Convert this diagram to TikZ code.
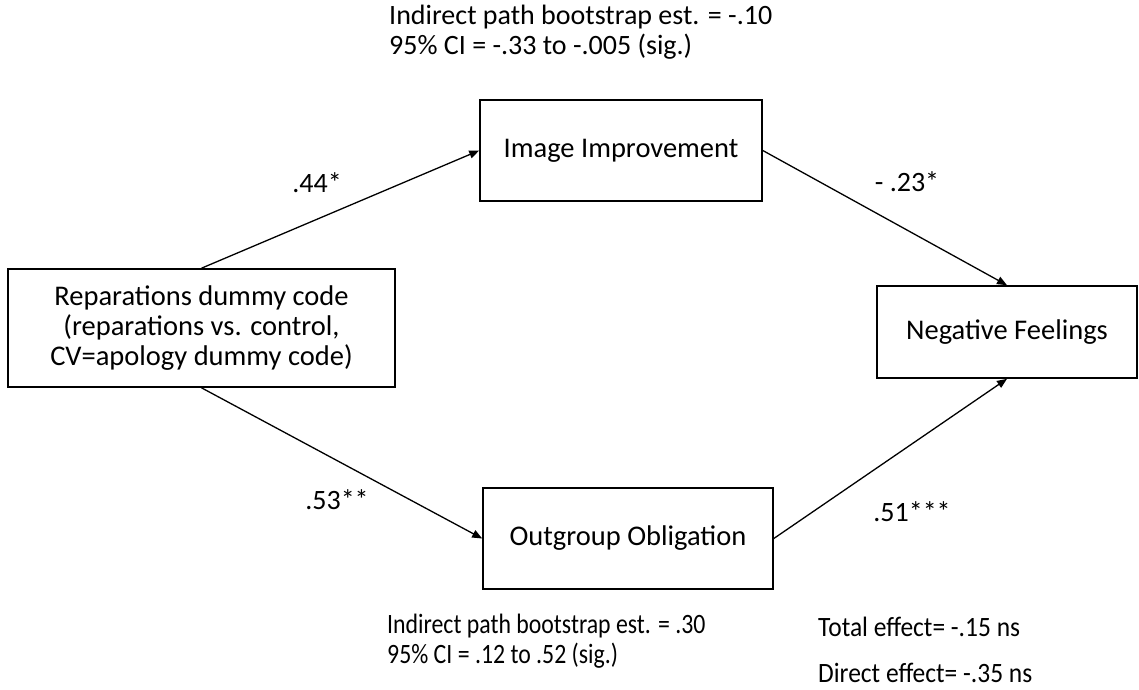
\documentclass[tikz,border=0pt]{standalone}
\usepackage{fontspec}
\setmainfont{Carlito}
\usetikzlibrary{arrows.meta}
\begin{document}
\begin{tikzpicture}[x=1pt,y=-1pt,
  box/.style={draw=black,line width=1.6pt,inner sep=0pt,font=\fontsize{28.5}{30}\selectfont,align=center},
  lbl/.style={inner sep=0pt,font=\fontsize{28}{30}\selectfont},
  note/.style={inner sep=0pt,font=\fontsize{28}{30}\selectfont,align=left,anchor=west},
  conn/.style={line width=1.3pt,-{Triangle[length=10pt,width=8pt]}}]
\useasboundingbox (0,0) rectangle (1139,689);
\node[box,minimum width=387pt,minimum height=118pt] (L) at (201.5,328)
  {Reparations dummy code\\(reparations vs. control,\\CV=apology dummy code)};
\node[box,minimum width=282pt,minimum height=101pt] (I) at (621,150.5) {Image Improvement};
\node[box,minimum width=260pt,minimum height=92pt] (N) at (1007,332) {Negative Feelings};
\node[box,minimum width=290pt,minimum height=101pt] (O) at (628,538.5) {Outgroup Obligation};
\draw[conn] (L.north) -- (I.west);
\draw[conn] (I.east) -- (N.north);
\draw[conn] (L.south) -- (O.west);
\draw[conn] (O.east) -- (N.south);
\node[lbl] (a) at (317,183) {.44*};
\node[lbl] (b) at (907,182) {- .23*};
\node[lbl] (c) at (337,500) {.53**};
\node[lbl] (d) at (912,512) {.51***};
\node[note] (t) at (389,32) {Indirect path bootstrap est. = -.10\\95\% CI = -.33 to -.005 (sig.)};
\node[note] (u) at (387,642) {\scalebox{0.85}[1]{\begin{tabular}{@{}l@{}}Indirect path bootstrap est. = .30\\95\% CI = .12 to .52 (sig.)\end{tabular}}};
\node[note] (v) at (818,627) {\scalebox{0.91}[1]{Total effect= -.15 ns}};
\node[note] (w) at (818,673) {\scalebox{0.91}[1]{Direct effect= -.35 ns}};
\end{tikzpicture}
\end{document}
